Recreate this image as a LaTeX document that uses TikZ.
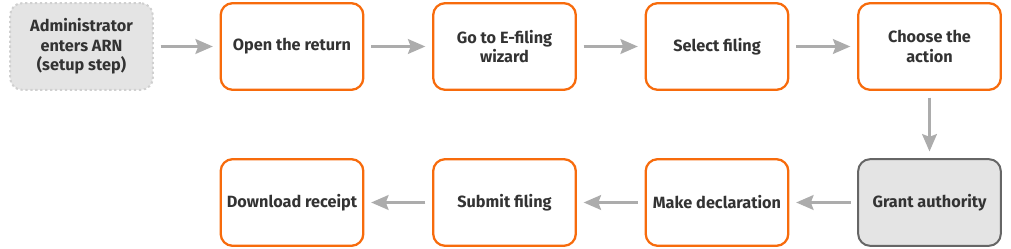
\documentclass[tikz,border=0pt]{standalone}
\usepackage{fontspec}
\setmainfont{Fira Sans}
\usetikzlibrary{arrows.meta,positioning}
\definecolor{flame}{RGB}{247,107,12}
\definecolor{ink}{RGB}{51,51,51}
\definecolor{mist}{RGB}{228,228,228}
\definecolor{ash}{RGB}{172,172,172}
\definecolor{slate}{RGB}{102,102,102}
\definecolor{speck}{RGB}{208,208,208}
\tikzset{
  stepbox/.style={draw=flame,line width=1.7pt,fill=white,rounded corners=9pt,
    minimum width=107pt,minimum height=65pt,align=center,text=ink,inner xsep=2pt,
    font=\bfseries\fontsize{12.2}{14.6}\selectfont},
  setupbox/.style={stepbox,draw=speck,dotted,line width=1.5pt,fill=mist},
  grantbox/.style={stepbox,draw=slate,line width=1.5pt,fill=mist},
  flow/.style={draw=ash,line width=2.2pt,shorten <=5pt,shorten >=5pt,
    -{Stealth[length=13pt,width=11pt,inset=2pt]}}
}

\begin{document}
\begin{tikzpicture}[x=0.75pt,y=-0.75pt]
  \useasboundingbox (0,0) rectangle (1011,249);
  % top row
  \node[setupbox] (s0) at (81.5,46.5) {Administrator\\enters ARN\\(setup step)};
  \foreach \t [count=\i] in {Open the return,Go to E-filing\\wizard,Select filing,Choose the\\action}
  {
    \pgfmathsetmacro{\x}{79.5+\i*212.5}
    \node[stepbox] (s\i) at (\x,46.5) {\t};
  }
  % bottom row, right to left
  \node[grantbox] (s5) at (929.5,202.5) {Grant authority};
  \foreach \t [count=\i from 6] in {Make declaration,Submit filing,Download receipt}
  {
    \pgfmathsetmacro{\x}{929.5-(\i-5)*212.5}
    \node[stepbox] (s\i) at (\x,202.5) {\t};
  }
  % connectors
  \foreach \a/\b in {s0/s1,s1/s2,s2/s3,s3/s4,s4/s5,s5/s6,s6/s7,s7/s8}
    \draw[flow] (\a) -- (\b);
\end{tikzpicture}
\end{document}
